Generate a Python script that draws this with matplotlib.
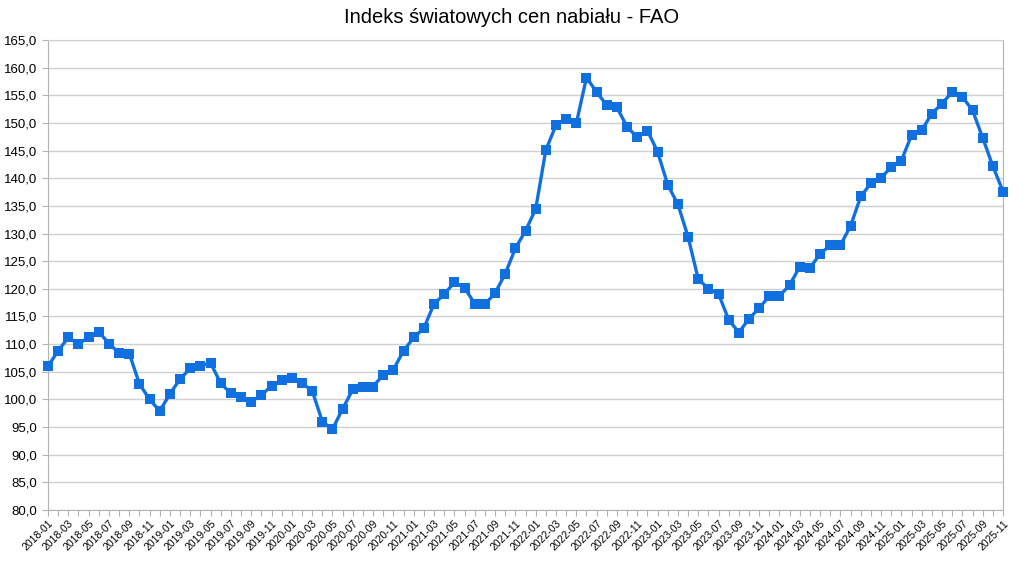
import matplotlib
matplotlib.use("Agg")
import matplotlib.pyplot as plt
from matplotlib.ticker import FuncFormatter

plt.rcParams['font.family'] = ['Liberation Sans', 'DejaVu Sans']

# miesiace 2018-01 .. 2025-11
months = ["%d-%02d" % (y, m) for y in range(2018, 2026) for m in range(1, 13)][:95]

values = [
    106.0, 108.8, 111.2, 110.0, 111.3, 112.2, 110.1, 108.4, 108.3, 102.8, 100.0, 97.9,
    101.0, 103.7, 105.6, 106.1, 106.6, 102.9, 101.1, 100.4, 99.6, 100.8, 102.4, 103.5,
    103.8, 102.9, 101.6, 96.0, 94.6, 98.3, 101.8, 102.2, 102.3, 104.5, 105.4, 108.8,
    111.2, 112.9, 117.3, 119.0, 121.2, 120.2, 117.3, 117.2, 119.2, 122.7, 127.3, 130.5,
    134.4, 145.1, 149.6, 150.8, 149.9, 158.2, 155.6, 153.2, 152.8, 149.3, 147.4, 148.6,
    144.8, 138.8, 135.3, 129.4, 121.8, 120.0, 119.1, 114.4, 112.1, 114.6, 116.5, 118.7,
    118.7, 120.7, 124.0, 123.8, 126.3, 127.9, 127.9, 131.4, 136.7, 139.1, 140.1, 142.0,
    143.2, 147.8, 148.7, 151.7, 153.5, 155.6, 154.7, 152.3, 147.3, 142.2, 137.6,
]

fig = plt.figure(figsize=(10.24, 5.63), dpi=100)
ax = fig.add_axes([48 / 1024, 1 - 510 / 563, (1003 - 48) / 1024, 470 / 563])

x = list(range(len(months)))
ax.plot(x, values, color='#1170e0', linewidth=2.4, marker='s', markersize=6.5,
        markeredgewidth=0, zorder=3, clip_on=False)

ax.set_xlim(0, len(months) - 1)
ax.set_ylim(80, 165)
ax.set_yticks(range(80, 166, 5))
ax.yaxis.set_major_formatter(FuncFormatter(lambda v, p: ("%.1f" % v).replace('.', ',')))

ax.set_xticks(x)
ax.set_xticklabels([m if i % 2 == 0 else "" for i, m in enumerate(months)],
                   rotation=45, ha='right', rotation_mode='anchor', fontsize=7.5)
ax.tick_params(axis='y', labelsize=9.5, length=4, color='#b3b3b3')
ax.tick_params(axis='x', length=4, color='#b3b3b3', pad=2)

ax.grid(axis='y', color='#d0d0d0', linewidth=1)
ax.set_axisbelow(True)
for s in ax.spines.values():
    s.set_color('#b3b3b3')
ax.spines['top'].set_color('#d0d0d0')

fig.suptitle("Indeks światowych cen nabiału - FAO", fontsize=14.5, y=0.985)

plt.savefig('out.png', dpi=100)
